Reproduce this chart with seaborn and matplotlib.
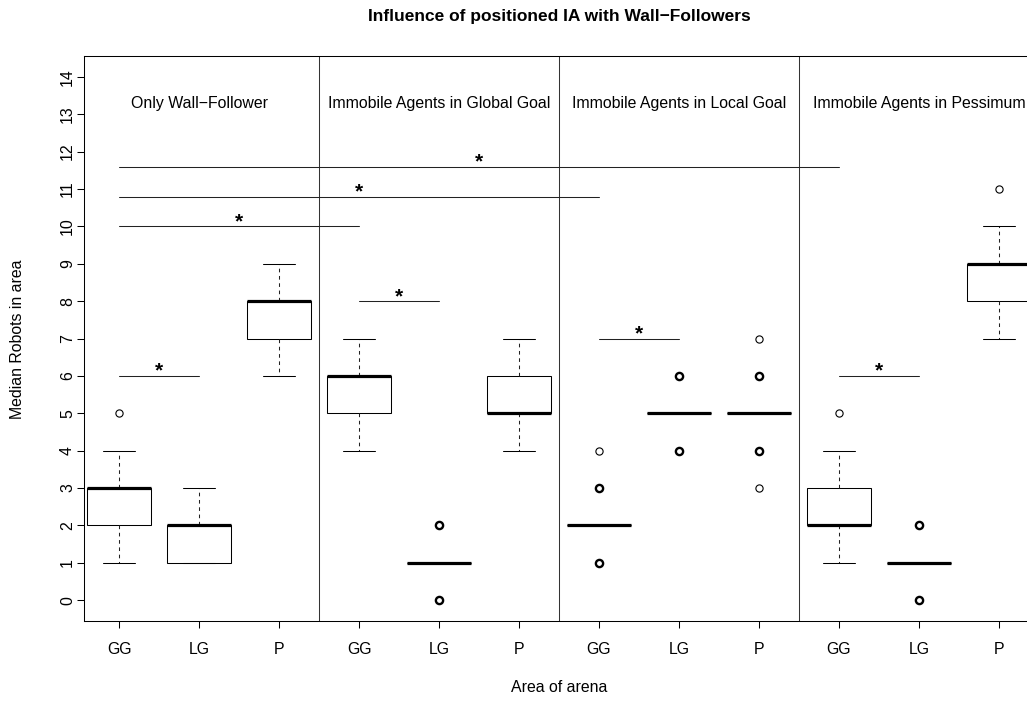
import numpy as np
import pandas as pd
import matplotlib
matplotlib.use("Agg")
import matplotlib.pyplot as plt
import seaborn as sns
from matplotlib.lines import Line2D

# Median robot counts per run, given as (value, number of runs) for every arena area
wall_gg = [(1, 2), (2, 10), (3, 14), (4, 3), (5, 1)]
wall_lg = [(1, 9), (2, 17), (3, 4)]
wall_p = [(6, 2), (7, 10), (8, 14), (9, 4)]
global_gg = [(4, 2), (5, 10), (6, 14), (7, 4)]
global_lg = [(0, 3), (1, 24), (2, 3)]
global_p = [(4, 3), (5, 13), (6, 10), (7, 4)]
local_gg = [(1, 3), (2, 22), (3, 4), (4, 1)]
local_lg = [(4, 4), (5, 22), (6, 4)]
local_p = [(3, 1), (4, 3), (5, 21), (6, 4), (7, 1)]
pess_gg = [(1, 2), (2, 14), (3, 10), (4, 3), (5, 1)]
pess_lg = [(0, 3), (1, 24), (2, 3)]
pess_p = [(7, 2), (8, 10), (9, 14), (10, 3), (11, 1)]

area_labels = ["GG", "LG", "P"]
conditions = ["Only Wall\u2212Follower", "Immobile Agents in Global Goal",
              "Immobile Agents in Local Goal", "Immobile Agents in Pessimum"]

# Significant pairwise differences: (first box, second box, bar height)
sig_pairs = [(1, 2, 6.0), (1, 4, 10.0), (1, 7, 10.8), (1, 10, 11.6),
             (4, 5, 8.0), (7, 8, 7.0), (10, 11, 6.0)]

series = [wall_gg, wall_lg, wall_p, global_gg, global_lg, global_p,
          local_gg, local_lg, local_p, pess_gg, pess_lg, pess_p]

rows = []
for pos, counts in enumerate(series, start=1):
    for val, n in counts:
        rows += [(pos, val)] * n
df = pd.DataFrame(rows, columns=["box", "robots"])

sns.set_theme(style="white")
plt.rcParams["font.family"] = ["Liberation Sans", "DejaVu Sans"]
plt.rcParams.update({"text.color": "black", "axes.labelcolor": "black",
                     "xtick.color": "black", "ytick.color": "black"})

FS = 11.4
W, H, DPI = 1027, 702, 100
fig = plt.figure(figsize=(W / DPI, H / DPI), dpi=DPI)
px = 1.0 / W
py = 1.0 / H
ax_left, ax_right, ax_top, ax_bottom = 84, 1034, 56, 621
ax = fig.add_axes([ax_left * px, 1 - ax_bottom * py,
                   (ax_right - ax_left) * px, (ax_bottom - ax_top) * py])

lw = 0.75
sns.boxplot(data=df, x="box", y="robots", native_scale=True, width=0.8,
            color="white", linecolor="black", linewidth=lw, whis=1.5,
            boxprops=dict(facecolor="white", edgecolor="black", linewidth=lw),
            medianprops=dict(color="black", linewidth=2.3, solid_capstyle="butt"),
            whiskerprops=dict(color="#222222", linewidth=lw, linestyle=(0, (3.5, 3.5))),
            capprops=dict(color="black", linewidth=lw),
            flierprops=dict(marker="o", markersize=5.2, markerfacecolor="none",
                            markeredgecolor="black", markeredgewidth=0.8),
            ax=ax)

# Caps half as wide as the boxes
for line in ax.lines:
    xd = np.asarray(line.get_xdata(), dtype=float)
    yd = np.asarray(line.get_ydata(), dtype=float)
    if len(xd) == 2 and yd[0] == yd[1] and line.get_linewidth() == lw \
            and line.get_linestyle() == "-":
        c = xd.mean()
        half = abs(xd[1] - xd[0]) / 2
        if half < 0.39:
            line.set_xdata([c - 0.2, c + 0.2])

# Repeated outliers drawn heavier
for line in list(ax.lines):
    if line.get_marker() == "o":
        xd = np.asarray(line.get_xdata(), dtype=float)
        yd = np.asarray(line.get_ydata(), dtype=float)
        if len(yd) == 0:
            continue
        vals, cnt = np.unique(yd, return_counts=True)
        single = vals[cnt == 1]
        multi = vals[cnt > 1]
        xc = xd[0]
        line.set_data([xc] * len(single), single)
        if len(multi):
            ax.add_line(Line2D([xc] * len(multi), multi, linestyle="none",
                               marker="o", markersize=5.2, markerfacecolor="none",
                               markeredgecolor="black", markeredgewidth=1.7))

ax.set_xlim(0.56, 12.44)
ax.set_ylim(-0.56, 14.56)

# Separators between conditions
for xb in (3.5, 6.5, 9.5):
    ax.axvline(xb, color="#333333", linewidth=lw)

# Condition labels
for i, name in enumerate(conditions):
    ax.text(2 + 3 * i, 13.3, name, ha="center", va="center", fontsize=FS)

# Significance bars
for a, b, h in sig_pairs:
    ax.plot([a, b], [h, h], color="#222222", linewidth=lw)
    ax.text((a + b) / 2, h - 0.13, "*", ha="center", va="bottom",
            fontsize=15, fontweight="bold")

ax.set_xlabel("")
ax.set_ylabel("")
ax.set_xticks(range(1, 13))
ax.set_xticklabels(area_labels * 4, fontsize=FS)
ax.set_yticks(range(0, 15))
ax.set_yticklabels([str(v) for v in range(0, 15)], fontsize=FS,
                   rotation=90, va="center")
ax.tick_params(axis="both", direction="out", length=5, width=lw, color="black",
               bottom=True, left=True)
ax.tick_params(axis="x", pad=10)
ax.tick_params(axis="y", pad=1.5)
for s in ax.spines.values():
    s.set_visible(True)
    s.set_color("black")
    s.set_linewidth(lw)

fig.text(559 * px, 1 - 688 * py, "Area of arena", ha="center", va="center",
         fontsize=FS)
fig.text(18 * px, 1 - 339 * py, "Median Robots in area", ha="center",
         va="center", rotation=90, fontsize=FS)
fig.text(559 * px, 1 - 16 * py, "Influence of positioned IA with Wall\u2212Followers",
         ha="center", va="center", fontsize=12.5, fontweight="bold")

fig.savefig("out.png", dpi=DPI)
